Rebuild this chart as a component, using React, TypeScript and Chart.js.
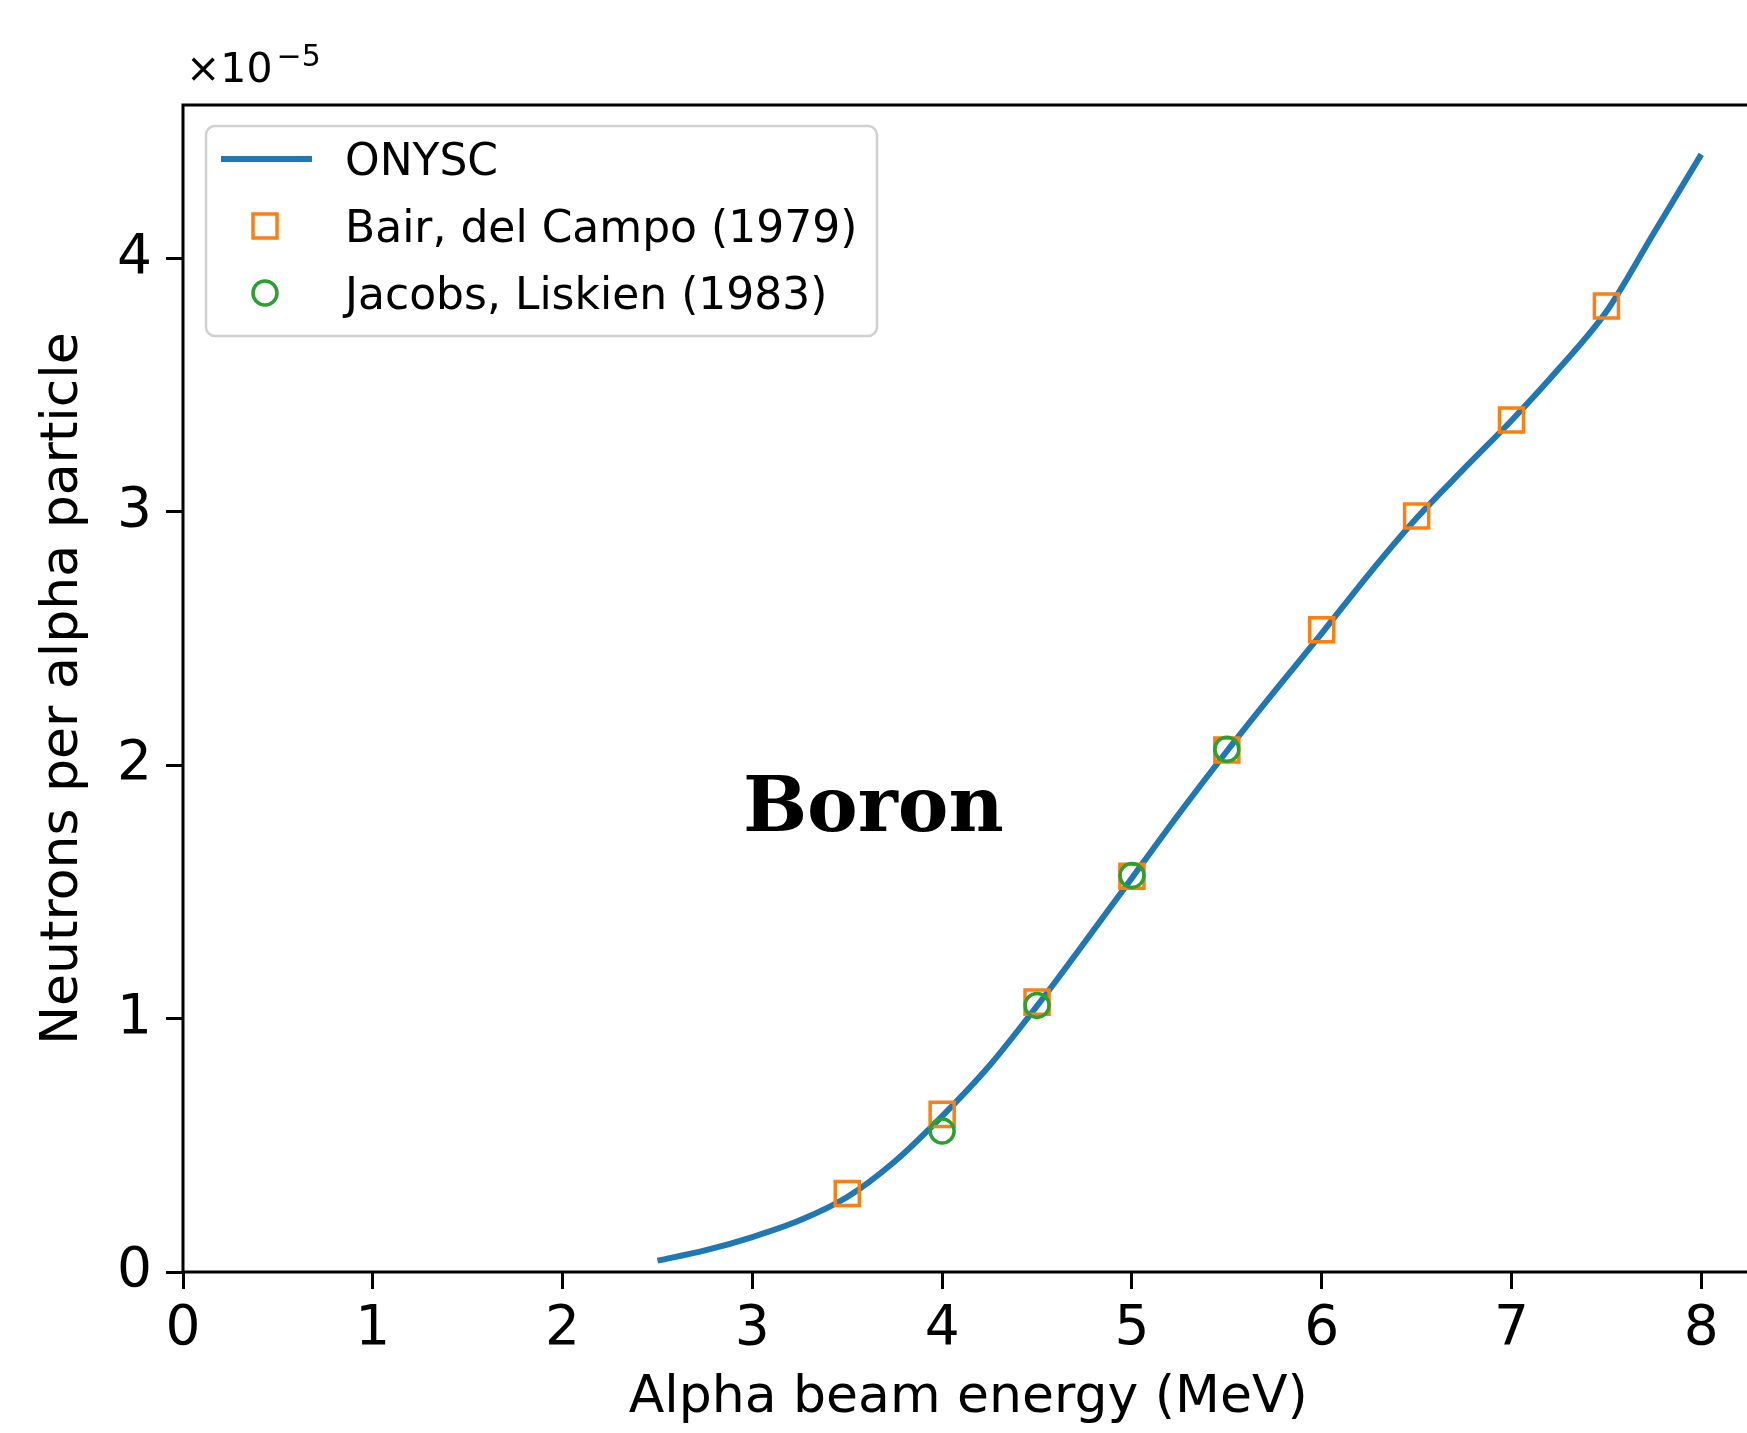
import React, { useEffect, useRef } from "react";
import { Chart, registerables } from "chart.js";

Chart.register(...registerables);

// ---- Data (yield values in units of 1e-5 neutrons per alpha) ----
const onyscEnergy = [2.5, 2.75, 3.0, 3.25, 3.5, 3.75, 4.0, 4.25, 4.5, 4.75, 5.0, 5.25, 5.5, 5.75, 6.0, 6.25, 6.5, 6.75, 7.0, 7.25, 7.5, 7.75, 8.0];
const onyscYield = [0.045, 0.085, 0.138, 0.204, 0.296, 0.436, 0.615, 0.815, 1.05, 1.3, 1.555, 1.81, 2.055, 2.29, 2.52, 2.755, 2.975, 3.17, 3.36, 3.565, 3.79, 4.1, 4.41];

const bairEnergy = [3.5, 4.0, 4.5, 5.0, 5.5, 6.0, 6.5, 7.0, 7.5];
const bairYield = [0.31, 0.622, 1.065, 1.562, 2.06, 2.534, 2.983, 3.362, 3.812];

const jacobsEnergy = [4.0, 4.5, 5.0, 5.5];
const jacobsYield = [0.556, 1.052, 1.565, 2.063];

const seriesLabels = ["ONYSC", "Bair, del Campo (1979)", "Jacobs, Liskien (1983)"];
const xTickValues = [0, 1, 2, 3, 4, 5, 6, 7, 8];
const yTickValues = [0, 1, 2, 3, 4];
const xTitle = "Alpha beam energy (MeV)";
const yTitle = "Neutrons per alpha particle";
const offsetBase = "×10";
const offsetExp = "−5";
const annotationText = "Boron";
const annotationAt = { x: 2.95, y: 1.74 };

const X_MIN = 0;
const X_MAX = 8.275;
const Y_MIN = 0;
const Y_MAX = 4.605;

const BLUE = "#1f77b4";
const ORANGE = "#ff7f0e";
const GREEN = "#2ca02c";
const SANS = "'DejaVu Sans', sans-serif";

const toPoints = (xs: number[], ys: number[]) => xs.map((x, i) => ({ x, y: ys[i] }));

const overlayPlugin = {
  id: "mplOverlay",
  afterDraw(chart: any) {
    const { ctx, chartArea } = chart;
    const xs = chart.scales.x;
    const ys = chart.scales.y;
    ctx.save();

    // spines
    ctx.strokeStyle = "#000";
    ctx.lineWidth = 3;
    ctx.strokeRect(chartArea.left, chartArea.top, chartArea.right - chartArea.left, chartArea.bottom - chartArea.top);

    // offset text ×10^-5
    ctx.fillStyle = "#000";
    ctx.textAlign = "left";
    ctx.textBaseline = "alphabetic";
    ctx.font = `41px ${SANS}`;
    ctx.fillText(offsetBase, 186, 82);
    const w = ctx.measureText(offsetBase).width;
    ctx.font = `30px ${SANS}`;
    ctx.fillText(offsetExp, 186 + w + 4, 66);

    // Boron annotation
    ctx.font = `bold 76px 'DejaVu Serif', serif`;
    ctx.fillText(annotationText, xs.getPixelForValue(annotationAt.x), ys.getPixelForValue(annotationAt.y));

    // legend
    const bx = 206, by = 126, bw = 671, bh = 210;
    ctx.beginPath();
    (ctx as any).roundRect(bx, by, bw, bh, 9);
    ctx.fillStyle = "rgba(255,255,255,0.8)";
    ctx.fill();
    ctx.strokeStyle = "#d0d0d0";
    ctx.lineWidth = 2.5;
    ctx.stroke();

    const rows = [159, 226, 293];
    ctx.strokeStyle = BLUE;
    ctx.lineWidth = 6;
    ctx.beginPath();
    ctx.moveTo(221, rows[0]);
    ctx.lineTo(312, rows[0]);
    ctx.stroke();
    ctx.strokeStyle = ORANGE;
    ctx.lineWidth = 3.5;
    ctx.strokeRect(265 - 12, rows[1] - 12, 24, 24);
    ctx.strokeStyle = GREEN;
    ctx.beginPath();
    ctx.arc(265, rows[2], 12, 0, Math.PI * 2);
    ctx.stroke();

    ctx.fillStyle = "#000";
    ctx.font = `44px ${SANS}`;
    seriesLabels.forEach((label, i) => {
      ctx.fillText(label, 345, rows[i] + 16);
    });

    ctx.restore();
  },
};

export default function App() {
  const canvasRef = useRef<HTMLCanvasElement | null>(null);

  useEffect(() => {
    const canvas = canvasRef.current;
    if (!canvas) return;
    const chart = new Chart(canvas, {
      type: "scatter",
      data: {
        datasets: [
          {
            type: "line",
            label: seriesLabels[0],
            data: toPoints(onyscEnergy, onyscYield),
            borderColor: BLUE,
            borderWidth: 6,
            pointRadius: 0,
            fill: false,
            cubicInterpolationMode: "monotone",
            order: 3,
          } as any,
          {
            label: seriesLabels[1],
            data: toPoints(bairEnergy, bairYield),
            pointStyle: "rect",
            pointRadius: 17,
            borderColor: ORANGE,
            backgroundColor: "rgba(0,0,0,0)",
            pointBorderWidth: 3.5,
            order: 2,
          },
          {
            label: seriesLabels[2],
            data: toPoints(jacobsEnergy, jacobsYield),
            pointStyle: "circle",
            pointRadius: 12,
            borderColor: GREEN,
            backgroundColor: "rgba(0,0,0,0)",
            pointBorderWidth: 3.5,
            order: 1,
          },
        ],
      },
      options: {
        animation: false,
        responsive: false,
        devicePixelRatio: 1,
        layout: { padding: { top: 105, right: 6, left: 0, bottom: 0 } },
        plugins: {
          legend: { display: false },
          tooltip: { enabled: false },
        },
        scales: {
          x: {
            type: "linear",
            min: X_MIN,
            max: X_MAX,
            afterFit: (s: any) => { s.height = 161; s.paddingLeft = 0; s.paddingRight = 0; },
            afterBuildTicks: (s: any) => { s.ticks = xTickValues.map((v) => ({ value: v })); },
            ticks: {
              color: "#000",
              font: { family: SANS, size: 55 },
              padding: 8,
              maxRotation: 0,
              autoSkip: false,
              includeBounds: false,
              callback: (v: any) => String(v),
            },
            grid: { drawOnChartArea: false, drawTicks: true, tickLength: 17, tickWidth: 3, tickColor: "#000", color: "#000" },
            border: { display: false },
            title: {
              display: true,
              text: xTitle,
              color: "#000",
              font: { family: SANS, size: 52 },
              padding: { top: 0, bottom: 3 },
            },
          },
          y: {
            type: "linear",
            min: Y_MIN,
            max: Y_MAX,
            afterFit: (s: any) => { s.width = 183; s.paddingTop = 0; s.paddingBottom = 0; },
            afterBuildTicks: (s: any) => { s.ticks = yTickValues.map((v) => ({ value: v })); },
            ticks: {
              color: "#000",
              font: { family: SANS, size: 55 },
              padding: 14,
              autoSkip: false,
              includeBounds: false,
              callback: (v: any) => String(v),
            },
            grid: { drawOnChartArea: false, drawTicks: true, tickLength: 17, tickWidth: 3, tickColor: "#000", color: "#000" },
            border: { display: false },
            title: {
              display: true,
              text: yTitle,
              color: "#000",
              font: { family: SANS, size: 52 },
              padding: { top: 32, bottom: 0 },
            },
          },
        },
      },
      plugins: [overlayPlugin],
    });
    return () => chart.destroy();
  }, []);

  return (
    <div style={{ position: "fixed", left: 0, top: 0, width: 1747, height: 1433, overflow: "hidden", background: "#fff" }}>
      <canvas ref={canvasRef} width={1774} height={1433} style={{ display: "block", width: 1774, height: 1433 }} />
    </div>
  );
}
